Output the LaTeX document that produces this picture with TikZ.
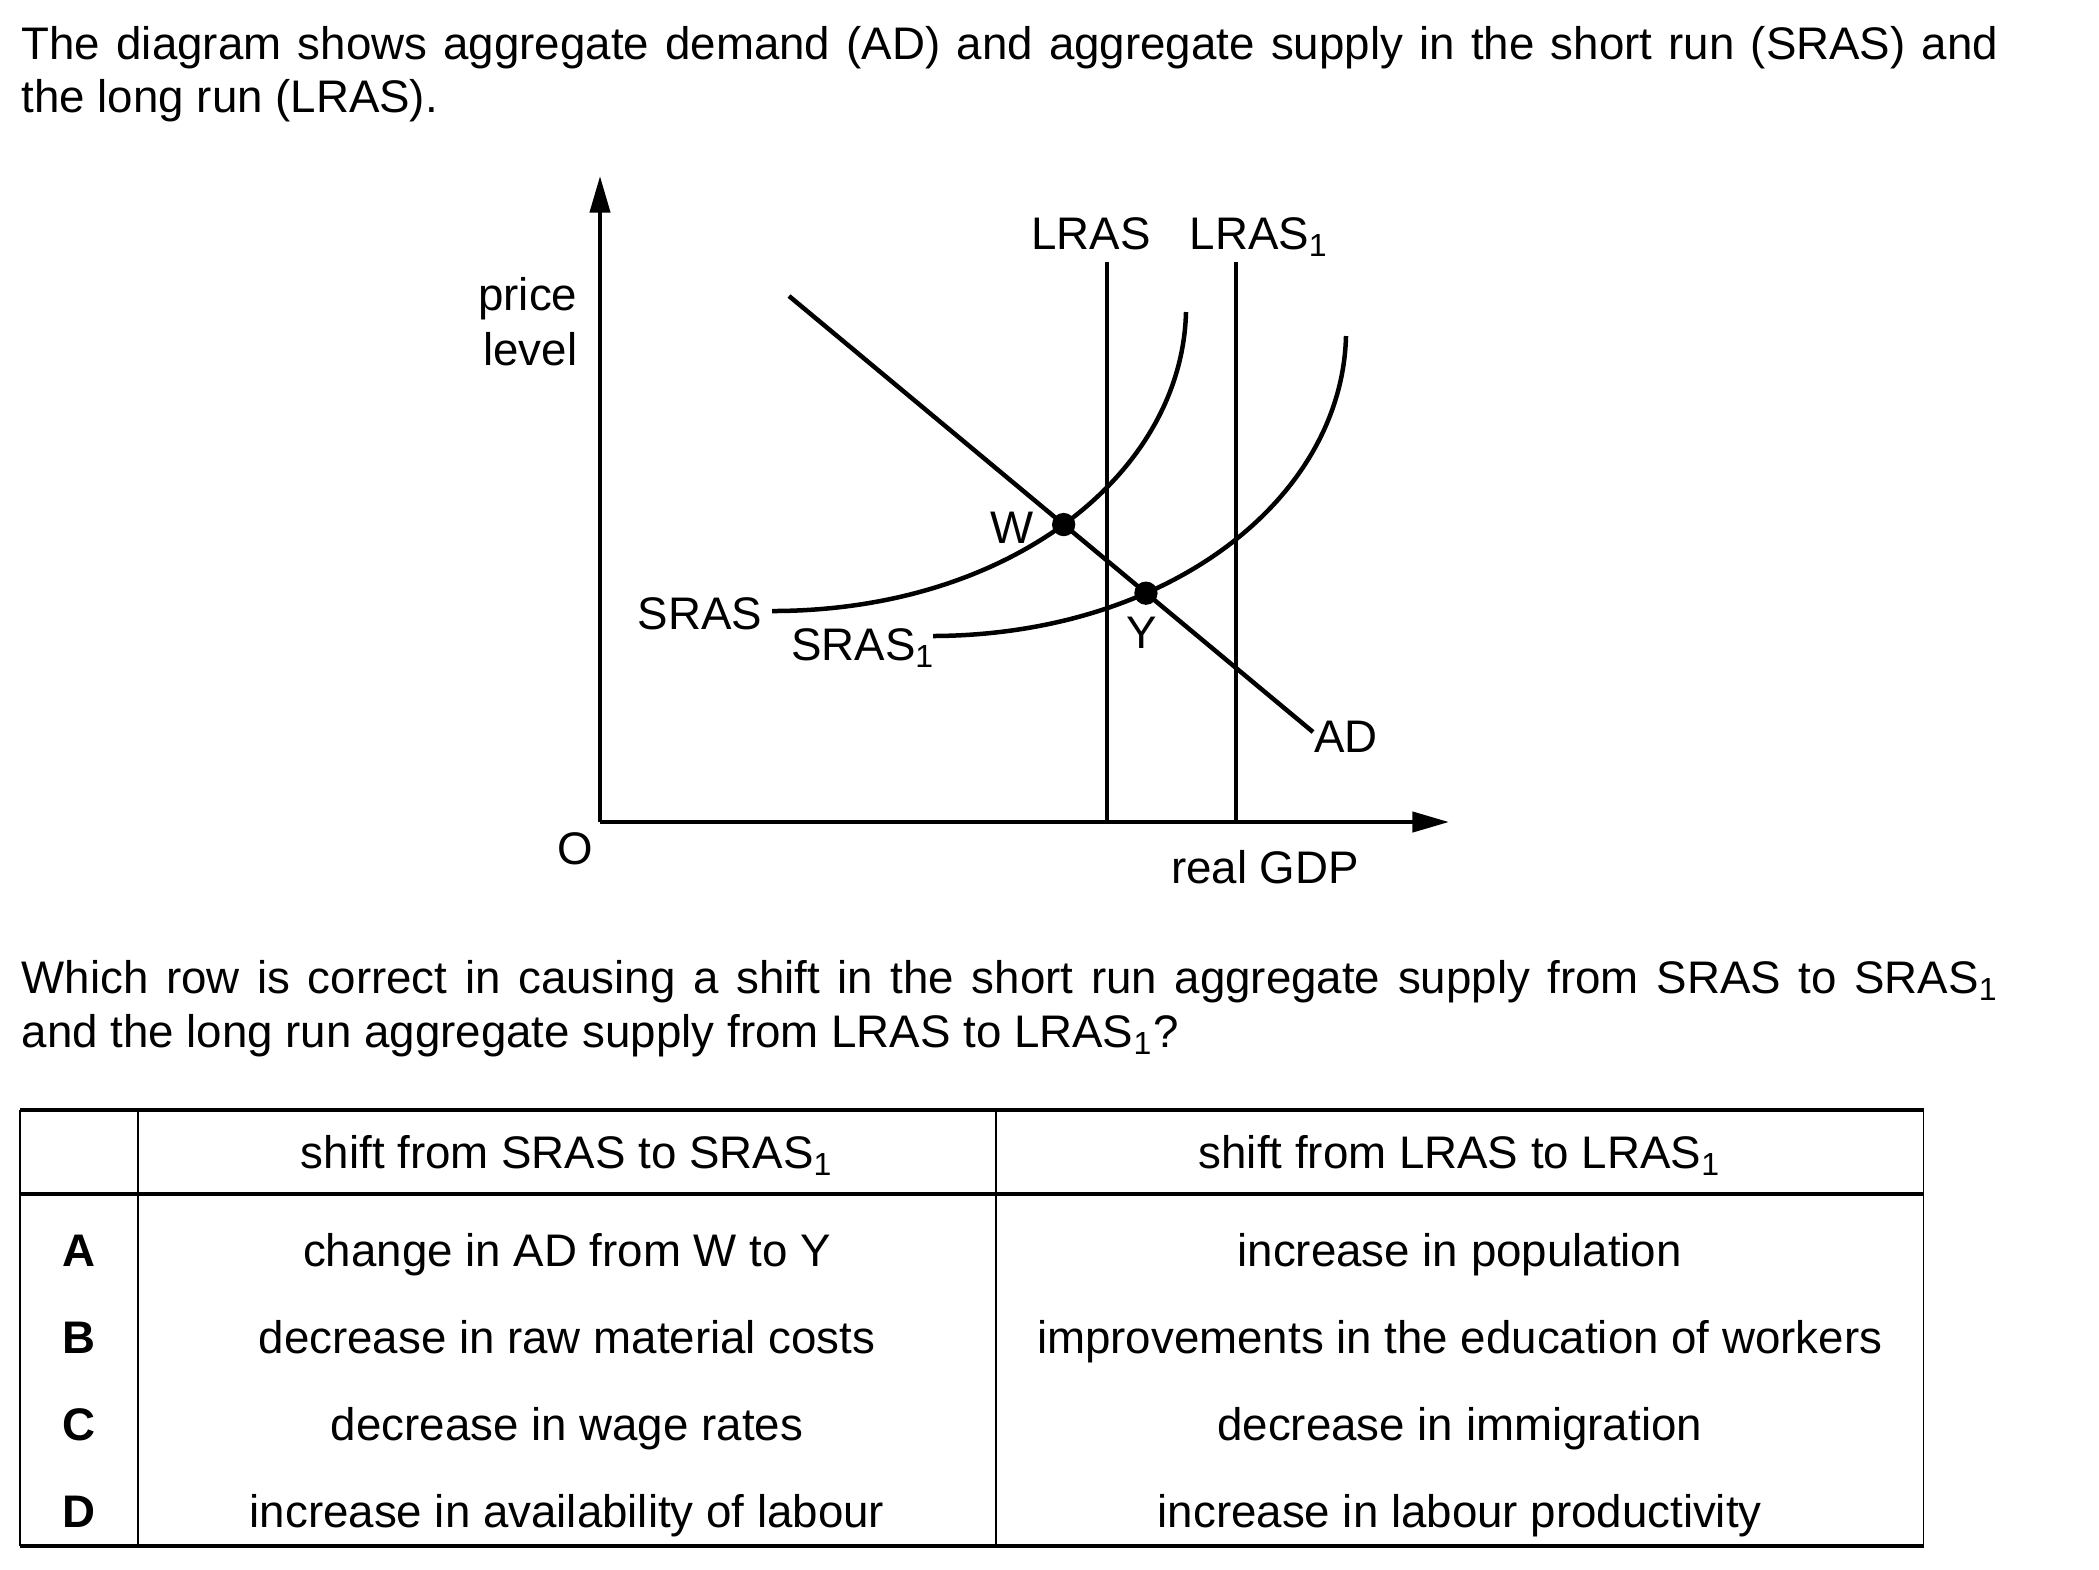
\documentclass[tikz,border=0pt]{standalone}
\usepackage{fontspec}
\setmainfont{Liberation Sans}
\usetikzlibrary{arrows.meta,intersections}
\begin{document}
\begin{tikzpicture}[x=0.3pt,y=-0.3pt,
  txt/.style={inner sep=0pt,font=\fontsize{13.7}{16}\selectfont},
  bold/.style={txt,font=\fontsize{13.7}{16}\selectfont\bfseries},
  curve/.style={line width=1.35pt},
  vline/.style={line width=1.2pt},
  axis/.style={line width=1.3pt,-{Triangle[length=11pt,width=6pt]}},
  thickrule/.style={line width=1.3pt},
  thinrule/.style={line width=0.5pt},
  dot/.style={circle,fill=black,inner sep=0pt,minimum size=7pt}]
\useasboundingbox (0,0) rectangle (2099,1569);
% title
\node[txt,anchor=base west] (t1) at (21,59) {\makebox[593pt][s]{The diagram shows aggregate demand (AD) and aggregate supply in the short run (SRAS) and}};
\node[txt,anchor=base west] (t2) at (21,112.4) {the long run (LRAS).};
% axes
\coordinate (O) at (600,822);
\coordinate (ytop) at (600,176);
\coordinate (xend) at (1449,822);
\draw[axis] (O) -- (ytop);
\draw[axis] (O) -- (xend);
\node[txt,anchor=base east] (price) at (578,310.6) {price};
\node[txt,anchor=base east] (level) at (578,365.4) {level};
\node[txt,anchor=base] (olab) at (575.6,864.7) {O};
\node[txt,anchor=base] (gdp) at (1265,883.5) {real GDP};
% LRAS lines
\coordinate (l0t) at (1107,262);
\coordinate (l0b) at (1107,822);
\coordinate (l1t) at (1236,262);
\coordinate (l1b) at (1236,822);
\draw[vline] (l0t) -- (l0b);
\draw[vline] (l1t) -- (l1b);
\node[txt,anchor=base] (lras) at (1091,249) {LRAS};
\node[txt,anchor=base] (lras1) at (1259,249) {LRAS\textsubscript{1}};
% AD
\coordinate (ads) at (789,296);
\coordinate (ade) at (1313,732);
\draw[curve,name path=ad] (ads) -- (ade);
\node[txt,anchor=base] (adlab) at (1346,752) {AD};
% SRAS
\coordinate (s0a) at (772,611);
\coordinate (s0b) at (1186,312);
\draw[curve,name path=sras] (s0a) .. controls (1010,611) and (1182,474) .. (s0b);
\coordinate (s1a) at (933,636);
\coordinate (s1b) at (1346,336);
\draw[curve,name path=sras1] (s1a) .. controls (1170,635) and (1342,498) .. (s1b);
\path[name intersections={of=ad and sras,by=W}];
\path[name intersections={of=ad and sras1,by=Y}];
\node[dot] (wdot) at (W) {};
\node[dot] (ydot) at (Y) {};
\node[txt,anchor=base] (wlab) at (1012,543) {W};
\node[txt,anchor=base] (ylab) at (1142,648) {Y};
\node[txt,anchor=base] (sraslab) at (700,629) {SRAS};
\node[txt,anchor=base] (sras1lab) at (863,660) {SRAS\textsubscript{1}};
% question
\node[txt,anchor=base west] (q1) at (21,993) {\makebox[593pt][s]{Which row is correct in causing a shift in the short run aggregate supply from SRAS to SRAS\textsubscript{1}}};
\node[txt,anchor=base west] (q2) at (21,1047) {and the long run aggregate supply from LRAS to LRAS\textsubscript{1}?};
% table
\coordinate (tl) at (20,1109.7);
\coordinate (tr) at (1923.6,1109.7);
\coordinate (hl) at (20,1194);
\coordinate (hr) at (1923.6,1194);
\coordinate (bl) at (20,1546);
\coordinate (br) at (1923.6,1546);
\coordinate (c1t) at (137.9,1109.7);
\coordinate (c1b) at (137.9,1546);
\coordinate (c2t) at (995.9,1109.7);
\coordinate (c2b) at (995.9,1546);
\draw[thinrule] (tl) -- (bl);
\draw[thinrule] (tr) -- (br);
\draw[thinrule] (c1t) -- (c1b);
\draw[thinrule] (c2t) -- (c2b);
\draw[thickrule] (tl) -- (tr);
\draw[thickrule] (hl) -- (hr);
\draw[thickrule] (bl) -- (br);
\node[txt,anchor=base] (h2) at (567,1168.6) {shift from SRAS to SRAS\textsubscript{1}};
\node[txt,anchor=base] (h3) at (1459.7,1168.6) {shift from LRAS to LRAS\textsubscript{1}};
\node[bold,anchor=base] (ra) at (79,1266.3) {A};
\node[bold,anchor=base] (rb) at (79,1353.3) {B};
\node[bold,anchor=base] (rc) at (79,1440.3) {C};
\node[bold,anchor=base] (rd) at (79,1527.3) {D};
\node[txt,anchor=base] (a2) at (567,1266.3) {change in AD from W to Y};
\node[txt,anchor=base] (a3) at (1459.7,1266.3) {increase in population};
\node[txt,anchor=base] (b2) at (567,1353.3) {decrease in raw material costs};
\node[txt,anchor=base] (b3) at (1459.7,1353.3) {improvements in the education of workers};
\node[txt,anchor=base] (c2) at (567,1440.3) {decrease in wage rates};
\node[txt,anchor=base] (c3) at (1459.7,1440.3) {decrease in immigration};
\node[txt,anchor=base] (d2) at (567,1527.3) {increase in availability of labour};
\node[txt,anchor=base] (d3) at (1459.7,1527.3) {increase in labour productivity};
\end{tikzpicture}
\end{document}
